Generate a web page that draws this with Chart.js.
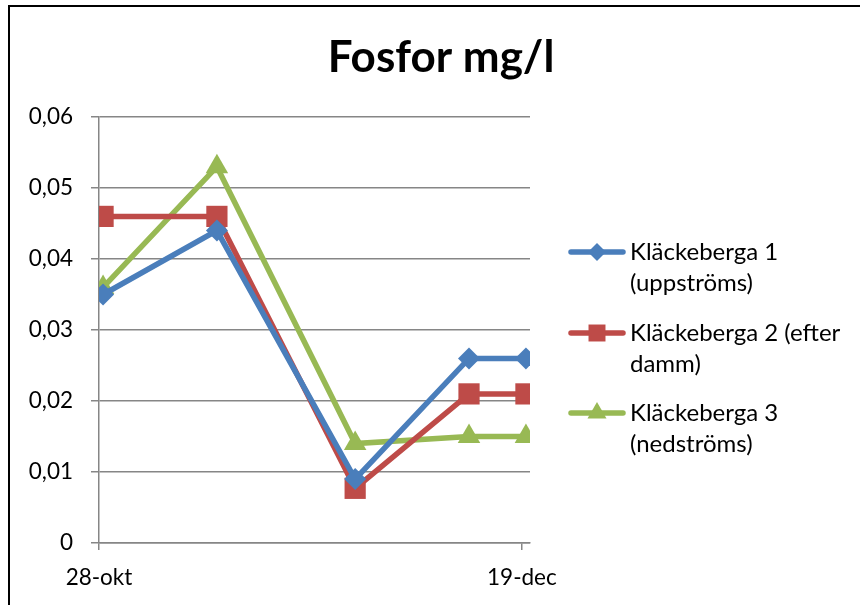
<!DOCTYPE html>
<html>
<head>
<meta charset="utf-8">
<script src="https://cdn.jsdelivr.net/npm/chart.js@4/dist/chart.umd.min.js"></script>
<style>
  html, body { margin: 0; padding: 0; background: #fff; }
  canvas { display: block; }
</style>
</head>
<body>
<canvas id="chart" width="860" height="605"></canvas>
<script>
// Sampling dates and measured values (mg/l)
const sampleDates = ['2013-10-28', '2013-11-11', '2013-11-28', '2013-12-12', '2013-12-19'];
const klackeberga1 = [0.035, 0.044, 0.009, 0.026, 0.026];
const klackeberga2 = [0.046, 0.046, 0.0077, 0.021, 0.021];
const klackeberga3 = [0.036, 0.053, 0.014, 0.015, 0.015];

const seriesNames = [
    ['Kläckeberga 1', '(uppströms)'],
    ['Kläckeberga 2 (efter', 'damm)'],
    ['Kläckeberga 3', '(nedströms)']
];
const xTickDates = ['2013-10-28', '2013-12-19'];
const xTickLabels = ['28-okt', '19-dec'];
const title = 'Fosfor mg/l';

const FONT = 'Lato, "Open Sans", sans-serif';
const GRAY = '#868686';
const colors = ['#4A7EBB', '#BE4B48', '#98B954'];
const styles = [
    { pointStyle: 'rectRot', radius: 11, legendRadius: 9 },
    { pointStyle: 'rect', radius: 15, legendRadius: 12 },
    { pointStyle: 'triangle', radius: 13, legendRadius: 11 }
];

const day0 = Date.UTC(2013, 9, 28);
function dayOf(s) {
    const p = s.split('-').map(Number);
    return Math.round((Date.UTC(p[0], p[1] - 1, p[2]) - day0) / 86400000);
}
const xDays = sampleDates.map(dayOf);
const tickValues = xTickDates.map(d => dayOf(d) - 0.5);

function makeSeries(i, values) {
    return {
        label: seriesNames[i].join(' '),
        data: values.map((v, k) => ({ x: xDays[k], y: v })),
        borderColor: colors[i],
        backgroundColor: colors[i],
        borderWidth: 5.5,
        pointStyle: styles[i].pointStyle,
        pointRadius: styles[i].radius,
        pointHoverRadius: styles[i].radius,
        pointBorderWidth: 0,
        tension: 0
    };
}

// frame, title and the wrapped legend
const decorPlugin = {
    id: 'decor',
    afterDraw(chart) {
        const ctx = chart.ctx;
        ctx.save();
        ctx.strokeStyle = '#000';
        ctx.lineWidth = 2;
        ctx.beginPath();
        ctx.moveTo(9, 605);
        ctx.lineTo(9, 6);
        ctx.lineTo(860, 6);
        ctx.stroke();

        ctx.fillStyle = '#000';
        ctx.font = 'bold 44px ' + FONT;
        ctx.textAlign = 'center';
        ctx.textBaseline = 'alphabetic';
        ctx.fillText(title, 441, 72);

        const rows = [252, 333, 413];
        ctx.font = '24px ' + FONT;
        ctx.textAlign = 'left';
        ctx.textBaseline = 'middle';
        seriesNames.forEach((lines, i) => {
            const y = rows[i];
            ctx.strokeStyle = colors[i];
            ctx.lineWidth = 5.5;
            ctx.lineCap = 'round';
            ctx.beginPath();
            ctx.moveTo(571, y);
            ctx.lineTo(623, y);
            ctx.stroke();
            ctx.fillStyle = colors[i];
            Chart.helpers.drawPoint(ctx, {
                pointStyle: styles[i].pointStyle,
                radius: styles[i].legendRadius,
                rotation: 0,
                borderWidth: 0
            }, 597, y);
            ctx.fillStyle = '#000';
            lines.forEach((t, k) => ctx.fillText(t, 630, y + k * 31));
        });
        ctx.restore();
    }
};

new Chart(document.getElementById('chart'), {
    type: 'line',
    data: {
        datasets: [
            makeSeries(0, klackeberga1),
            makeSeries(1, klackeberga2),
            makeSeries(2, klackeberga3)
        ]
    },
    options: {
        responsive: false,
        animation: false,
        layout: { padding: { left: 0, top: 117, right: 330, bottom: 0 } },
        plugins: {
            legend: { display: false },
            title: { display: false },
            tooltip: { enabled: false }
        },
        scales: {
            x: {
                type: 'linear',
                min: -0.5,
                max: 52.5,
                afterFit: s => { s.height = 62; },
                afterBuildTicks: s => { s.ticks = tickValues.map(v => ({ value: v })); },
                grid: { drawOnChartArea: false, drawTicks: true, tickLength: 7, color: GRAY, lineWidth: 1.5 },
                border: { display: true, color: GRAY, width: 1.5 },
                ticks: {
                    autoSkip: false,
                    maxRotation: 0,
                    padding: 14,
                    color: '#000',
                    font: { family: FONT, size: 22.5 },
                    callback: v => xTickLabels[tickValues.indexOf(v)] || ''
                }
            },
            y: {
                min: 0,
                max: 0.06,
                afterFit: s => { s.width = 99; },
                grid: { color: GRAY, lineWidth: 1.5, tickLength: 8 },
                border: { display: true, color: GRAY, width: 1.5 },
                ticks: {
                    stepSize: 0.01,
                    padding: 18,
                    color: '#000',
                    font: { family: FONT, size: 22.5 },
                    callback: v => v === 0 ? '0' : v.toFixed(2).replace('.', ',')
                }
            }
        }
    },
    plugins: [decorPlugin]
});
</script>
</body>
</html>
